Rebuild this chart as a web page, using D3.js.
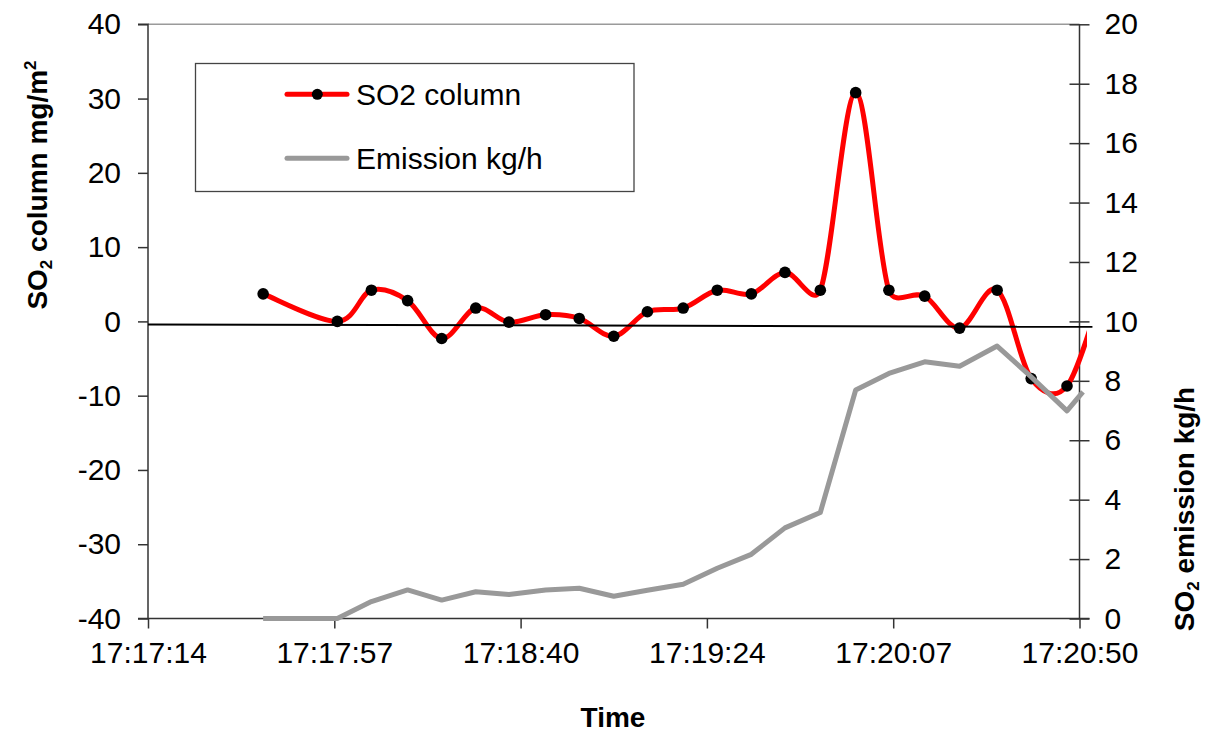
<!DOCTYPE html>
<html>
<head>
<meta charset="utf-8">
<script src="https://cdn.jsdelivr.net/npm/d3@7"></script>
<style>
  html, body { margin: 0; padding: 0; background: #fff; }
  svg { display: block; font-family: "Liberation Sans", Arial, sans-serif; }
</style>
</head>
<body>
<svg id="chart" width="1211" height="735"></svg>
<script>
// ---- data (time in seconds after 17:17:14) ----
const times = [26.7, 43.9, 51.8, 60.2, 68.1, 76.0, 83.7, 92.2, 100.0, 108.0, 115.8, 124.1,
               132.0, 139.9, 147.7, 155.9, 164.1, 171.8, 180.1, 188.2, 196.9, 204.8, 213.1];
const so2Column = [3.7, 0.0, 4.2, 2.8, -2.3, 1.8, -0.1, 0.9, 0.4, -2.0, 1.3, 1.8,
                   4.2, 3.7, 6.6, 4.2, 30.8, 4.2, 3.4, -0.9, 4.2, -7.7, -8.7];
const emission = [0, 0, 0.57, 0.96, 0.62, 0.90, 0.81, 0.96, 1.02, 0.75, 0.95, 1.15,
                  1.69, 2.16, 3.05, 3.57, 7.69, 8.25, 8.64, 8.49, 9.17, 8.13, 6.99];
// trailing samples that run past the right edge of the plot
const so2Tail = { t: 221.2, v: 4.0 };
const emissionTail = { t: 216.8, v: 7.63 };
// thin reference line drawn across the plot
const refLineTimes = [0, 219];
const refLineValues = [-0.41, -0.73];

const xTickValues = [0, 43.2, 86.4, 129.6, 172.8, 216];
const xTickLabels = ["17:17:14", "17:17:57", "17:18:40", "17:19:24", "17:20:07", "17:20:50"];
const leftTicks = [-40, -30, -20, -10, 0, 10, 20, 30, 40];
const rightTicks = [0, 2, 4, 6, 8, 10, 12, 14, 16, 18, 20];

// ---- layout ----
const L = 148, R = 1079.5, T = 24.3, B = 618.5;
const svg = d3.select("#chart");

const x = d3.scaleLinear().domain([0, 216]).range([L, R]);
const yL = d3.scaleLinear().domain([-40, 40]).range([B, T]);
const yR = d3.scaleLinear().domain([0, 20]).range([B, T]);

const axisColor = "#333";
const tickFont = 30;
const plainNum = d => String(d);

svg.append("defs").append("clipPath").attr("id", "plotClip")
  .append("rect").attr("x", L).attr("y", 0).attr("width", 1087 - L).attr("height", 735);

// top border of plot area
svg.append("line").attr("x1", L).attr("x2", R).attr("y1", T).attr("y2", T)
  .attr("stroke", "#9a9a9a").attr("stroke-width", 1.5);

// left axis
const gL = svg.append("g").attr("transform", `translate(${L},0)`)
  .call(d3.axisLeft(yL).tickValues(leftTicks).tickSize(10).tickPadding(17).tickFormat(plainNum));
// right axis
const gR = svg.append("g").attr("transform", `translate(${R},0)`)
  .call(d3.axisRight(yR).tickValues(rightTicks).tickSize(10).tickPadding(15).tickFormat(plainNum));
gR.selectAll(".tick line").attr("x1", -10);
// bottom axis
const gB = svg.append("g").attr("transform", `translate(0,${B})`)
  .call(d3.axisBottom(x).tickValues(xTickValues).tickSize(10).tickPadding(13)
    .tickFormat((d, i) => xTickLabels[i]));

[gL, gR, gB].forEach(g => {
  g.select(".domain").attr("stroke", axisColor).attr("stroke-width", 1.5);
  g.selectAll(".tick line").attr("stroke", axisColor).attr("stroke-width", 1.5);
  g.selectAll("text").attr("font-size", tickFont).attr("fill", "#000")
    .attr("font-family", "'Liberation Sans', Arial, sans-serif");
});
gB.select(".domain").attr("d", `M${L},0H${R + 10}`);
gL.select(".domain").attr("d", `M-10,${T}H0V${B}H-10`);
gR.select(".domain").attr("d", `M0,${T}V${B}`);

// ---- series ----
const plot = svg.append("g").attr("clip-path", "url(#plotClip)");

const so2Pts = times.map((t, i) => ({ t, v: so2Column[i] })).concat([so2Tail]);
const emPts = times.map((t, i) => ({ t, v: emission[i] })).concat([emissionTail]);

// spreadsheet-style smoothed line: Catmull-Rom Bezier handles, each limited
// to half of its own segment's length
function smoothPath(pts) {
  const p = d3.path();
  const dist = (a, b) => Math.hypot(b[0] - a[0], b[1] - a[1]);
  const handle = (a, b, seg) => {
    let hx = (b[0] - a[0]) / 6, hy = (b[1] - a[1]) / 6;
    const len = Math.hypot(hx, hy), cap = seg / 2;
    if (len > cap && len > 0) { hx *= cap / len; hy *= cap / len; }
    return [hx, hy];
  };
  p.moveTo(pts[0][0], pts[0][1]);
  for (let i = 0; i < pts.length - 1; i++) {
    const p0 = pts[i - 1] || pts[i], p1 = pts[i], p2 = pts[i + 1], p3 = pts[i + 2] || pts[i + 1];
    const d12 = dist(p1, p2);
    const h1 = handle(p0, p2, d12), h2 = handle(p1, p3, d12);
    p.bezierCurveTo(p1[0] + h1[0], p1[1] + h1[1], p2[0] - h2[0], p2[1] - h2[1], p2[0], p2[1]);
  }
  return p.toString();
}

plot.append("path").attr("d", smoothPath(so2Pts.map(d => [x(d.t), yL(d.v)])))
  .attr("fill", "none").attr("stroke", "#ff0000").attr("stroke-width", 5)
  .attr("stroke-linejoin", "round").attr("stroke-linecap", "round");

plot.selectAll("circle.m").data(so2Pts.slice(0, times.length)).enter().append("circle")
  .attr("class", "m").attr("cx", d => x(d.t)).attr("cy", d => yL(d.v)).attr("r", 5.8)
  .attr("fill", "#000");

const grayLine = d3.line().x(d => x(d.t)).y(d => yR(d.v));
plot.append("path").datum(emPts).attr("d", grayLine)
  .attr("fill", "none").attr("stroke", "#999999").attr("stroke-width", 5)
  .attr("stroke-linejoin", "round").attr("stroke-linecap", "butt");

// reference line (not clipped)
svg.append("line")
  .attr("x1", x(refLineTimes[0])).attr("y1", yL(refLineValues[0]))
  .attr("x2", x(refLineTimes[1])).attr("y2", yL(refLineValues[1]))
  .attr("stroke", "#000").attr("stroke-width", 2);

// ---- axis titles ----
const titleFont = 28;
const lt = svg.append("text").attr("transform", `translate(47,185) rotate(-90)`)
  .attr("text-anchor", "middle").attr("font-size", titleFont).attr("font-weight", "bold");
lt.append("tspan").text("SO");
lt.append("tspan").text("2").attr("font-size", 17).attr("dy", 5);
lt.append("tspan").text(" column mg/m").attr("dy", -5);
lt.append("tspan").text("2").attr("font-size", 17).attr("dy", -11);

const rt = svg.append("text").attr("transform", `translate(1194,509) rotate(-90)`)
  .attr("text-anchor", "middle").attr("font-size", titleFont).attr("font-weight", "bold");
rt.append("tspan").text("SO");
rt.append("tspan").text("2").attr("font-size", 17).attr("dy", 5);
rt.append("tspan").text(" emission kg/h").attr("dy", -5);

svg.append("text").attr("x", 613).attr("y", 727).attr("text-anchor", "middle")
  .attr("font-size", titleFont).attr("font-weight", "bold").text("Time");

// ---- legend ----
const lg = svg.append("g");
lg.append("rect").attr("x", 195.5).attr("y", 63.5).attr("width", 438.5).attr("height", 128)
  .attr("fill", "#fff").attr("stroke", "#444").attr("stroke-width", 1.3);
const legendItems = [
  { label: "SO2 column", color: "#ff0000", marker: true, y: 94.3 },
  { label: "Emission kg/h", color: "#999999", marker: false, y: 158.3 }
];
legendItems.forEach(it => {
  lg.append("line").attr("x1", 287).attr("x2", 347).attr("y1", it.y).attr("y2", it.y)
    .attr("stroke", it.color).attr("stroke-width", 5).attr("stroke-linecap", "round");
  if (it.marker) lg.append("circle").attr("cx", 317.3).attr("cy", it.y).attr("r", 5.5).attr("fill", "#000");
  lg.append("text").attr("x", 356).attr("y", it.y + 10.8).attr("font-size", 30).text(it.label);
});
</script>
</body>
</html>
